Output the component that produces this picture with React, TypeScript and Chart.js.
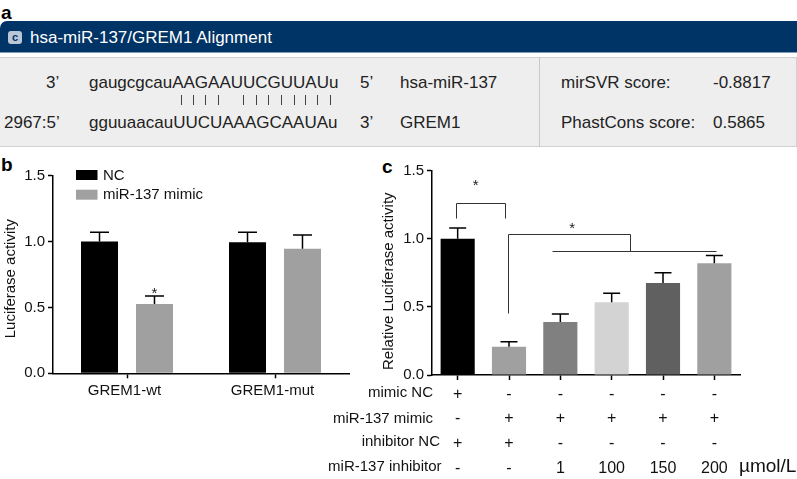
import React, { useEffect, useRef } from "react";
import { Chart, registerables } from "chart.js";

Chart.register(...registerables);

const FONT = "'Liberation Sans', Arial, sans-serif";

// Panel b
const bCategories = ["GREM1-wt", "GREM1-mut"];
const bNC = [1.0, 0.995];
const bNCErr = [1.07, 1.07];
const bMimic = [0.526, 0.945];
const bMimicErr = [0.587, 1.05];
const bColors = ["#000000", "#a0a0a0"];
const bSeriesNames = ["NC", "miR-137 mimic"];

// Panel c
const cMimicNC = ["+", "-", "-", "-", "-", "-"];
const cMimic = ["-", "+", "+", "+", "+", "+"];
const cInhibitorNC = ["+", "+", "-", "-", "-", "-"];
const cInhibitor = ["-", "-", "1", "100", "150", "200"];
const cRowNames = ["mimic NC", "miR-137 mimic", "inhibitor NC", "miR-137 inhibitor"];
const cValues = [1.0, 0.208, 0.39, 0.535, 0.675, 0.82];
const cErr = [1.08, 0.245, 0.448, 0.6, 0.75, 0.878];
const cColors = ["#000000", "#a0a0a0", "#808080", "#d3d3d3", "#606060", "#a0a0a0"];

// Panel a
const pipeXs = [181, 192.5, 205, 218, 243, 255.5, 268, 281, 293.5, 305, 316.5, 330];

const errorBars = {
  id: "errorBars",
  afterDatasetsDraw(chart: any, _a: any, opts: any) {
    const { ctx } = chart;
    const y = chart.scales.y;
    ctx.save();
    ctx.strokeStyle = "#000";
    ctx.lineWidth = 1.5;
    chart.data.datasets.forEach((ds: any, di: number) => {
      const meta = chart.getDatasetMeta(di);
      meta.data.forEach((el: any, i: number) => {
        const top = y.getPixelForValue(ds.errorTop[i]);
        ctx.beginPath();
        ctx.moveTo(el.x, y.getPixelForValue(ds.data[i]));
        ctx.lineTo(el.x, top);
        ctx.moveTo(el.x - opts.cap / 2, top);
        ctx.lineTo(el.x + opts.cap / 2, top);
        ctx.stroke();
      });
    });
    ctx.restore();
  },
};

const bExtras = {
  id: "bExtras",
  afterDraw(chart: any) {
    const { ctx } = chart;
    const x = chart.scales.x;
    const y = chart.scales.y;
    ctx.save();
    ctx.font = `15px ${FONT}`;
    ctx.textBaseline = "middle";
    ctx.textAlign = "left";
    chart.data.datasets.forEach((ds: any, i: number) => {
      const top = 15 + i * 19.7;
      ctx.fillStyle = ds.backgroundColor;
      ctx.fillRect(76, top, 21.5, 10);
      ctx.fillStyle = "#111";
      ctx.fillText(ds.label, 103, top + 5.5);
    });
    ctx.textAlign = "center";
    ctx.fillStyle = "#222";
    ctx.fillText("*", x.getPixelForValue(0) + 27.5, y.getPixelForValue(0.6));
    ctx.restore();
  },
};

const cBrackets = [
  [[-0.03, 1.153], [-0.03, 1.263], [0.92, 1.263], [0.92, 1.153]],
  [[0.99, 0.455], [0.99, 1.037], [3.36, 1.037], [3.36, 0.913]],
  [[1.84, 0.913], [5.03, 0.913]],
];
const cStars = [[0.35, 1.39], [2.23, 1.07]];

const cExtras = {
  id: "cExtras",
  afterDraw(chart: any) {
    const { ctx } = chart;
    const x = chart.scales.x;
    const y = chart.scales.y;
    ctx.save();
    ctx.strokeStyle = "#333";
    ctx.lineWidth = 1;
    cBrackets.forEach((pts) => {
      ctx.beginPath();
      pts.forEach(([a, b], i) => {
        const px = Math.round(x.getPixelForValue(a)) + 0.5;
        const py = Math.round(y.getPixelForValue(b)) + 0.5;
        if (i === 0) ctx.moveTo(px, py);
        else ctx.lineTo(px, py);
      });
      ctx.stroke();
    });
    ctx.font = `15px ${FONT}`;
    ctx.fillStyle = "#222";
    ctx.textAlign = "center";
    ctx.textBaseline = "middle";
    cStars.forEach(([a, b]) => ctx.fillText("*", x.getPixelForValue(a), y.getPixelForValue(b)));
    ctx.textAlign = "right";
    ctx.fillStyle = "#111";
    const ends = [113, 113, 120, 121.5];
    const rows = [238, 263.5, 286.5, 311.5];
    cRowNames.forEach((n, i) => ctx.fillText(n, ends[i], rows[i]));
    ctx.textAlign = "left";
    ctx.font = `19px ${FONT}`;
    ctx.fillText("µmol/L", 419, 311.5);
    ctx.restore();
  },
};

function axisOpts(yWidth: number, xHeight: number, title: string, titlePad: number, xFont: any, xPad: number, xLabelOffset: number) {
  const common = {
    grid: { drawOnChartArea: false, drawTicks: true, tickLength: 5, tickColor: "#000", tickWidth: 1.5, offset: false },
    border: { color: "#000", width: 1.5 },
  };
  return {
    x: {
      ...common,
      ticks: { color: "#111", font: xFont, autoSkip: false, maxRotation: 0, minRotation: 0, padding: xPad, labelOffset: xLabelOffset },
      afterFit: (s: any) => { s.height = xHeight; },
    },
    y: {
      ...common,
      min: 0,
      max: 1.5,
      ticks: {
        stepSize: 0.5,
        color: "#111",
        padding: 3,
        font: { family: FONT, size: 15 },
        callback: (v: any) => Number(v).toFixed(1),
      },
      title: { display: true, text: title, color: "#111", font: { family: FONT, size: 15 }, padding: { top: titlePad, bottom: 0 } },
      afterFit: (s: any) => { s.width = yWidth; },
    },
  };
}

export default function App() {
  const bRef = useRef<HTMLCanvasElement>(null);
  const cRef = useRef<HTMLCanvasElement>(null);

  useEffect(() => {
    const b = new Chart(bRef.current!, {
      type: "bar",
      data: {
        labels: bCategories,
        datasets: [
          { label: bSeriesNames[0], data: bNC, errorTop: bNCErr, backgroundColor: bColors[0], barPercentage: 0.673, categoryPercentage: 0.743 } as any,
          { label: bSeriesNames[1], data: bMimic, errorTop: bMimicErr, backgroundColor: bColors[1], barPercentage: 0.673, categoryPercentage: 0.743 } as any,
        ],
      },
      options: {
        responsive: false,
        animation: false,
        devicePixelRatio: 1,
        layout: { padding: { left: 0, top: 20.7, right: 11, bottom: 0 } },
        plugins: { legend: { display: false }, tooltip: { enabled: false }, errorBars: { cap: 19 } } as any,
        scales: axisOpts(53, 31.7, "Luciferase activity  ", 1.5, { family: FONT, size: 15 }, 4, -2.5) as any,
      },
      plugins: [errorBars, bExtras],
    });
    const c = new Chart(cRef.current!, {
      type: "bar",
      data: {
        labels: cValues.map((_, i) => [cMimicNC[i], cMimic[i], cInhibitorNC[i], cInhibitor[i]]),
        datasets: [
          { label: "Relative Luciferase activity", data: cValues, errorTop: cErr, backgroundColor: cColors, barPercentage: 0.665, categoryPercentage: 1 } as any,
        ],
      },
      options: {
        responsive: false,
        animation: false,
        devicePixelRatio: 1,
        layout: { padding: { left: 0, top: 15.7, right: 57, bottom: 0 } },
        plugins: { legend: { display: false }, tooltip: { enabled: false }, errorBars: { cap: 17 } } as any,
        scales: axisOpts(112, 104, "Relative Luciferase activity    ", 60, { family: FONT, size: 16, lineHeight: 1.54 }, 2, 0) as any,
      },
      plugins: [errorBars, cExtras],
    });
    return () => { b.destroy(); c.destroy(); };
  }, []);

  const text = (s: string, left: number, cy: number, extra: any = {}) => (
    <div style={{ position: "absolute", left, top: cy - 11, height: 22, lineHeight: "22px", fontSize: 17, color: "#222", whiteSpace: "pre", ...extra }}>{s}</div>
  );

  return (
    <div style={{ position: "absolute", left: 0, top: 0, width: 797, height: 479, overflow: "hidden", background: "#fff", fontFamily: FONT }}>
      <div style={{ position: "absolute", left: 1, top: 3, fontSize: 19, fontWeight: 700, color: "#000", lineHeight: "20px" }}>a</div>
      <div style={{ position: "absolute", left: 0, top: 21, width: 797, height: 31, background: "#003366", borderTopLeftRadius: 7, borderBottom: "1px solid #7f9cba" }} />
      <div style={{ position: "absolute", left: 8, top: 31, width: 14, height: 13, borderRadius: 3, background: "#b9c6d6", color: "#003366", fontSize: 11, fontWeight: 700, textAlign: "center", lineHeight: "13px" }}>c</div>
      {text("hsa-miR-137/GREM1 Alignment", 30, 37.5, { color: "#fff" })}
      <div style={{ position: "absolute", left: 0, top: 57, width: 797, height: 90, boxSizing: "border-box", background: "#eeeeee", border: "1px solid #d0d0d0", borderWidth: "1.5px 1.5px 1.5px 0" }} />
      <div style={{ position: "absolute", left: 539, top: 57, width: 1, height: 90, background: "#c8c8c8" }} />
      {text("3’", 46, 83)}
      {text("gaugcgcauAAGAAUUCGUUAUu", 89, 83)}
      {text("5’", 360, 83)}
      {text("hsa-miR-137", 400, 83)}
      {text("mirSVR score:", 561, 83)}
      {text("-0.8817", 713, 83)}
      {pipeXs.map((x) => (
        <div key={x} style={{ position: "absolute", left: x, top: 95, width: 1, height: 10, background: "#444" }} />
      ))}
      {text("2967:5’", 4, 123)}
      {text("gguuaacauUUCUAAAGCAAUAu", 89, 123)}
      {text("3’", 360, 123)}
      {text("GREM1", 400, 123)}
      {text("PhastCons score:", 561, 123)}
      {text("0.5865", 713, 123)}
      <div style={{ position: "absolute", left: 1, top: 155, fontSize: 19, fontWeight: 700, color: "#000", lineHeight: "20px" }}>b</div>
      <div style={{ position: "absolute", left: 382, top: 157, fontSize: 19, fontWeight: 700, color: "#000", lineHeight: "20px" }}>c</div>
      <canvas ref={bRef} width={360} height={250} style={{ position: "absolute", left: 0, top: 155, width: 360, height: 250 }} />
      <canvas ref={cRef} width={477} height={324} style={{ position: "absolute", left: 320, top: 155, width: 477, height: 324 }} />
    </div>
  );
}
